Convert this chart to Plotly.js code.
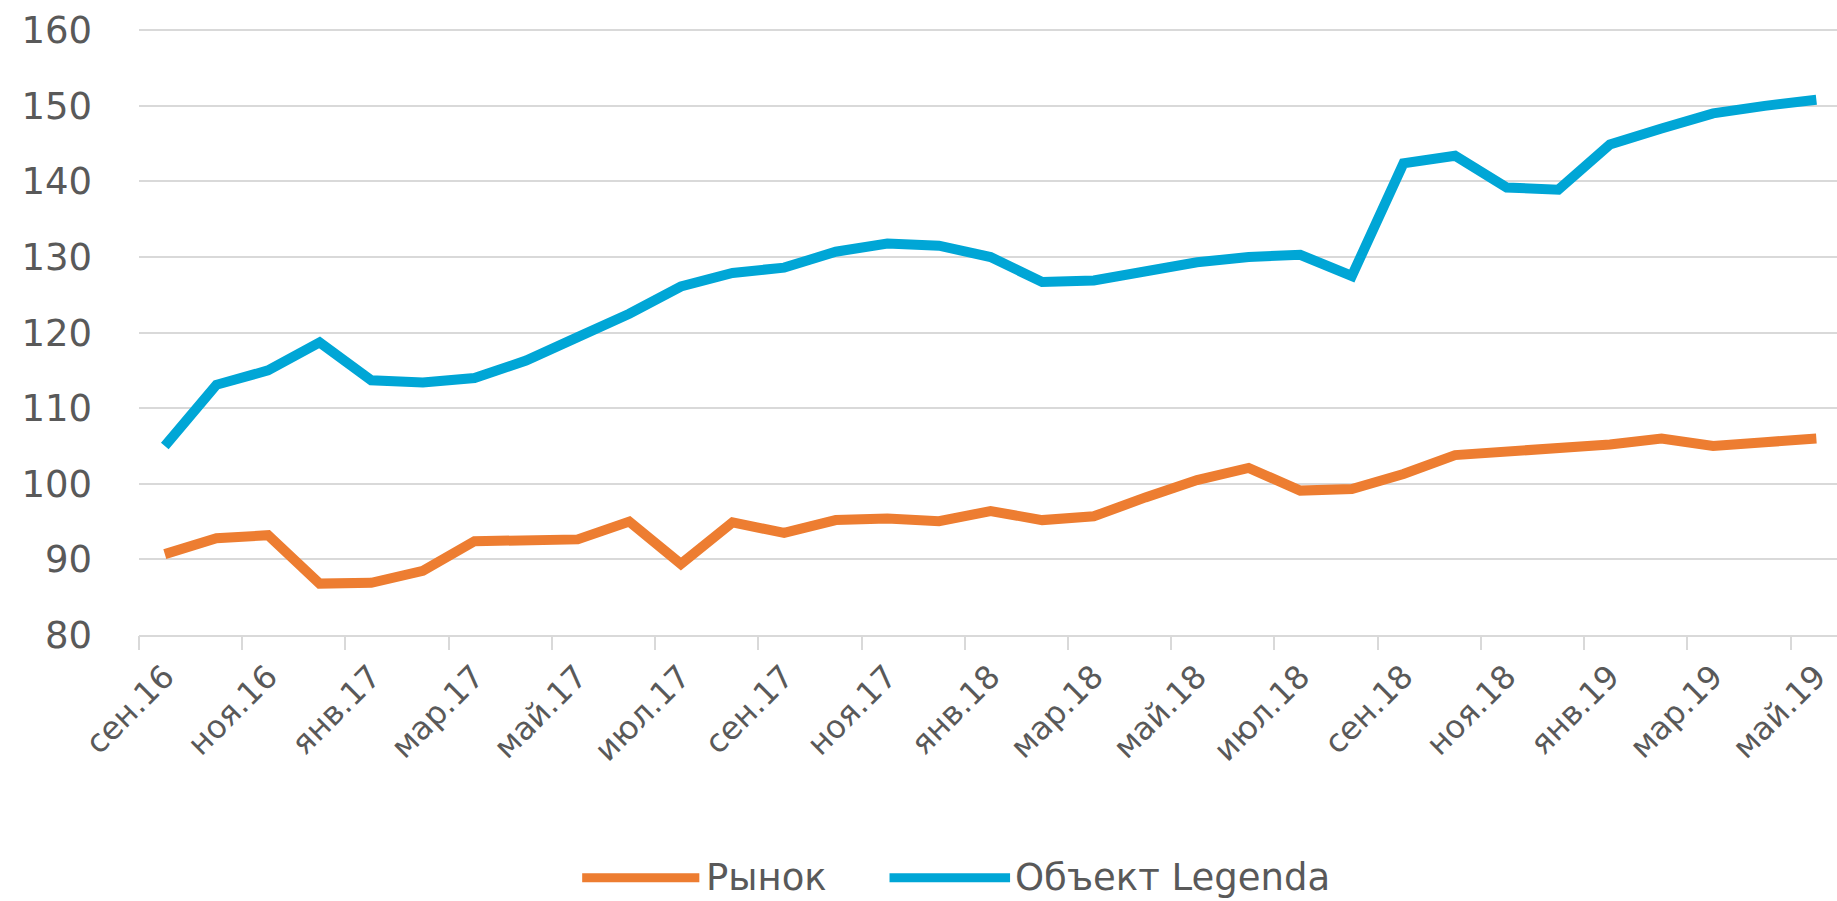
<!DOCTYPE html>
<html>
<head>
<meta charset="utf-8">
<script src="https://cdn.plot.ly/plotly-3.0.1.min.js"></script>
<style>html,body{margin:0;padding:0;background:#fff;}#chart{width:1837px;height:901px;}</style>
</head>
<body>
<div id="chart"></div>
<script>
const months = ['сен.16','окт.16','ноя.16','дек.16','янв.17','фев.17','мар.17','апр.17','май.17','июн.17','июл.17','авг.17',
  'сен.17','окт.17','ноя.17','дек.17','янв.18','фев.18','мар.18','апр.18','май.18','июн.18','июл.18','авг.18',
  'сен.18','окт.18','ноя.18','дек.18','янв.19','фев.19','мар.19','апр.19','май.19'];
const market = [90.7, 92.8, 93.2, 86.8, 86.9, 88.5, 92.4, 92.65, 92.65, 95.0, 89.4, 94.9, 93.5, 95.2, 95.4, 95.05,
  96.4, 95.2, 95.7, 98.2, 100.5, 102.1, 99.1, 99.3, 101.3, 103.8, 104.2, 104.9, 105.2, 106.0, 105.0, 105.5, 106.0];
const legenda = [105.0, 113.1, 115.0, 118.7, 113.7, 113.4, 114.0, 116.3, 119.4, 122.5, 126.1, 127.9, 128.6, 130.7, 131.8, 131.5,
  130.0, 126.7, 126.9, 128.0, 129.3, 130.0, 130.3, 127.5, 142.4, 143.4, 139.2, 138.9, 144.9, 147.0, 149.0, 150.0, 150.8];
const seriesNames = ['Рынок', 'Объект Legenda'];
const seriesColors = ['#ED7D31', '#00A6D6'];
const yTicks = [80, 90, 100, 110, 120, 130, 140, 150, 160];

const labelIdx = months.map((m, i) => i).filter(i => i % 2 === 0);
const tickLabels = labelIdx.map(i => months[i]);
const boundaries = labelIdx.map(i => i - 0.5);

const FONT = 'DejaVu Sans, sans-serif';
const TXT = '#595959';
const GRID = '#D9D9D9';
const xRange = [-0.5, 32.4];

const traces = [
  {x: months, y: market, name: seriesNames[0], type: 'scatter', mode: 'lines',
   line: {color: seriesColors[0], width: 10}, showlegend: false, hoverinfo: 'x+y'},
  {x: months, y: legenda, name: seriesNames[1], type: 'scatter', mode: 'lines',
   line: {color: seriesColors[1], width: 10}, showlegend: false, hoverinfo: 'x+y'},
  // empty helper trace so that the boundary-tick axis is drawn
  {x: [], y: [], xaxis: 'x2', yaxis: 'y', type: 'scatter', mode: 'lines', showlegend: false, hoverinfo: 'skip'}
];

const legY = -0.40;
const layout = {
  width: 1837, height: 901,
  margin: {l: 139, r: 0, t: 28, b: 266},
  paper_bgcolor: '#fff', plot_bgcolor: '#fff',
  font: {family: FONT, color: TXT, size: 36},
  xaxis: {
    type: 'category', categoryorder: 'array', categoryarray: months,
    range: xRange, tickmode: 'array', tickvals: tickLabels, ticktext: tickLabels,
    tickangle: -45, ticks: '', showgrid: false, zeroline: false,
    showline: true, linecolor: GRID, linewidth: 2,
    tickfont: {family: FONT, color: TXT, size: 32}, ticklabelstandoff: 8
  },
  xaxis2: {
    overlaying: 'x', anchor: 'y', side: 'bottom', type: 'linear',
    range: xRange, tickmode: 'array', tickvals: boundaries,
    ticks: 'outside', ticklen: 14, tickwidth: 2, tickcolor: GRID,
    showticklabels: false, showgrid: false, zeroline: false, showline: false
  },
  yaxis: {
    range: [80, 160.3], tickmode: 'array', tickvals: yTicks, ticks: '',
    showgrid: true, gridcolor: GRID, gridwidth: 2, zeroline: false, showline: false,
    tickfont: {family: FONT, color: TXT, size: 37}, ticklabelstandoff: 46
  },
  shapes: [
    {type: 'line', xref: 'paper', yref: 'paper', x0: 0.261, x1: 0.330, y0: legY, y1: legY,
     line: {color: seriesColors[0], width: 9}},
    {type: 'line', xref: 'paper', yref: 'paper', x0: 0.442, x1: 0.513, y0: legY, y1: legY,
     line: {color: seriesColors[1], width: 9}}
  ],
  annotations: [
    {xref: 'paper', yref: 'paper', x: 0.333, y: legY, xanchor: 'left', yanchor: 'middle',
     text: seriesNames[0], showarrow: false, font: {family: FONT, color: TXT, size: 37}},
    {xref: 'paper', yref: 'paper', x: 0.515, y: legY, xanchor: 'left', yanchor: 'middle',
     text: seriesNames[1], showarrow: false, font: {family: FONT, color: TXT, size: 37}}
  ]
};

Plotly.newPlot('chart', traces, layout, {displayModeBar: false, staticPlot: true});
</script>
</body>
</html>
